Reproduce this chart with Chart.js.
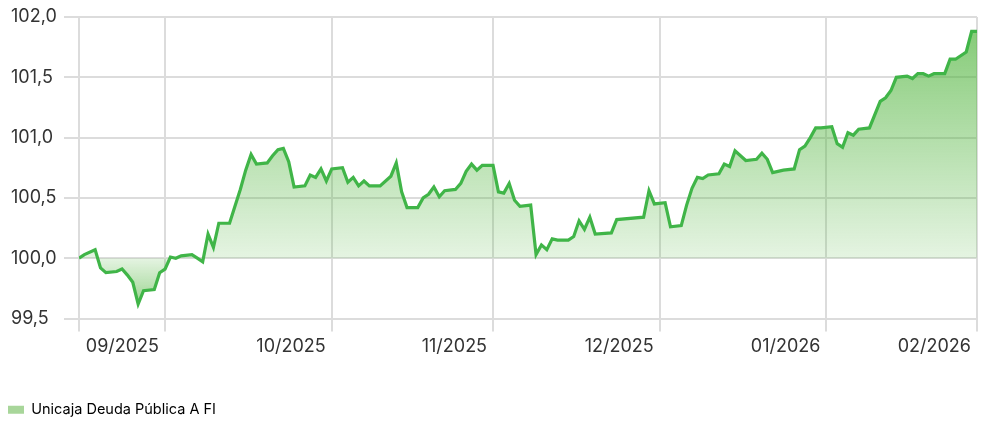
<!DOCTYPE html>
<html lang="es">
<head>
  <meta charset="UTF-8">
  <title>Unicaja Deuda Pública A FI</title>
  <script src="https://cdn.jsdelivr.net/npm/chart.js"></script>
  <style>
    html, body { margin: 0; padding: 0; background: #fff; }
    #wrap { width: 986px; height: 421px; }
  </style>
</head>
<body>
  <div id="wrap"><canvas id="grafica"></canvas></div>

  <script>
    // días desde el inicio de la serie (14/09/2025) y valor liquidativo en base 100
    const dias = [0, 1, 3, 4, 5, 7, 8, 9, 10, 11, 12, 14, 15, 16, 17, 18, 19, 21, 22, 23,
      24, 25, 26, 28, 29, 30, 31, 32, 33, 35, 36, 37, 38, 39, 40, 42, 43, 44, 45, 46,
      47, 49, 50, 51, 52, 53, 54, 56, 58, 59, 60, 61, 63, 64, 65, 66, 67, 68, 70, 71,
      72, 73, 74, 75, 77, 78, 79, 80, 81, 82, 84, 85, 86, 87, 88, 89, 91, 92, 93, 94,
      95, 96, 99, 100, 105, 106, 107, 109, 110, 112, 113, 114, 115, 116, 117, 119, 120, 121, 122, 124,
      126, 127, 128, 129, 131, 133, 134, 135, 136, 137, 138, 140, 141, 142, 143, 144, 145, 147, 149, 150,
      151, 152, 154, 155, 156, 157, 158, 159, 161, 162, 163, 165, 166, 167];
    const valores = [100.00, 100.03, 100.07, 99.92, 99.88, 99.89, 99.91, 99.86, 99.80, 99.62, 99.73, 99.74, 99.88, 99.91, 100.01, 100.00, 100.02, 100.03, 100.00, 99.97,
      100.20, 100.09, 100.29, 100.29, 100.43, 100.57, 100.73, 100.86, 100.78, 100.79, 100.85, 100.90, 100.91, 100.80, 100.59, 100.60, 100.69, 100.67, 100.74, 100.64,
      100.74, 100.75, 100.63, 100.67, 100.60, 100.64, 100.60, 100.60, 100.68, 100.79, 100.55, 100.42, 100.42, 100.50, 100.53, 100.59, 100.51, 100.56, 100.57, 100.62,
      100.72, 100.78, 100.73, 100.77, 100.77, 100.55, 100.54, 100.62, 100.48, 100.43, 100.44, 100.03, 100.11, 100.07, 100.16, 100.15, 100.15, 100.18, 100.31, 100.24,
      100.34, 100.20, 100.21, 100.32, 100.34, 100.56, 100.45, 100.46, 100.26, 100.27, 100.44, 100.58, 100.67, 100.66, 100.69, 100.70, 100.78, 100.76, 100.89, 100.81,
      100.82, 100.87, 100.82, 100.71, 100.73, 100.74, 100.90, 100.93, 101.00, 101.08, 101.08, 101.09, 100.95, 100.92, 101.04, 101.02, 101.07, 101.08, 101.30, 101.33,
      101.39, 101.50, 101.51, 101.49, 101.53, 101.53, 101.51, 101.53, 101.53, 101.65, 101.65, 101.71, 101.88, 101.88];

    // marcas del eje X (fin de cada mes)
    const diasMarca = [0, 16, 47, 77, 108, 139, 167];
    const etiquetasMes = ['', '09/2025', '10/2025', '11/2025', '12/2025', '01/2026', '02/2026'];

    const nombreFondo = 'Unicaja Deuda Pública A FI';

    const fuente = "'Inter', 'Noto Sans', sans-serif";

    function relleno(context) {
      const chart = context.chart;
      const area = chart.chartArea;
      if (!area) return 'rgba(80,180,60,0.3)';
      const y = chart.scales.y;
      const g = chart.ctx.createLinearGradient(0, area.top, 0, area.bottom);
      const base = (y.getPixelForValue(100) - area.top) / (area.bottom - area.top);
      g.addColorStop(0, 'rgba(80,180,60,0.72)');
      g.addColorStop(Math.min(Math.max(base, 0), 1), 'rgba(80,180,60,0.15)');
      g.addColorStop(1, 'rgba(80,180,60,0.7)');
      return g;
    }

    // baja un poco la leyenda (Chart.js le reserva 10px de más por debajo)
    const moverLeyenda = {
      id: 'moverLeyenda',
      afterLayout(chart) {
        const l = chart.legend;
        if (!l) return;
        l.top += 6; l.bottom += 6;
        l.left -= 3; l.right -= 3;
      }
    };

    const ctx = document.getElementById('grafica').getContext('2d');
    new Chart(ctx, {
      type: 'line',
      data: {
        datasets: [{
          label: nombreFondo,
          data: dias.map((d, i) => ({ x: d, y: valores[i] })),
          borderColor: '#40b548',
          borderWidth: 3.2,
          pointRadius: 0,
          tension: 0,
          fill: { value: 100 },
          backgroundColor: relleno
        }]
      },
      options: {
        responsive: true,
        maintainAspectRatio: false,
        animation: false,
        layout: { padding: { left: 11, right: 9, top: 17, bottom: 0 } },
        scales: {
          x: {
            type: 'linear',
            min: 0,
            max: 167,
            afterBuildTicks: (scale) => { scale.ticks = diasMarca.map(v => ({ value: v })); },
            afterFit: (scale) => { scale.height = 78; },
            grid: { color: '#dcdcdc', lineWidth: 2, tickLength: 13 },
            border: { display: false },
            ticks: {
              align: 'end',
              labelOffset: -6,
              padding: 4,
              maxRotation: 0,
              autoSkip: false,
              color: '#333',
              font: { family: fuente, size: 18 },
              callback: (v) => etiquetasMes[diasMarca.indexOf(v)] || ''
            }
          },
          y: {
            min: 99.5,
            max: 102,
            afterFit: (scale) => { scale.width = 68; },
            grid: { color: '#dcdcdc', lineWidth: 2, tickLength: 15 },
            border: { display: false },
            ticks: {
              stepSize: 0.5,
              crossAlign: 'far',
              color: '#333',
              font: { family: fuente, size: 18 },
              callback: (v) => v.toFixed(1).replace('.', ',')
            }
          }
        },
        plugins: {
          legend: {
            position: 'bottom',
            align: 'start',
            labels: {
              boxWidth: 16,
              boxHeight: 8,
              padding: 0,
              color: '#333',
              font: { family: fuente, size: 14.5 },
              generateLabels: (chart) => [{
                text: nombreFondo,
                fillStyle: '#a8d69a',
                strokeStyle: '#a8d69a',
                lineWidth: 0,
                datasetIndex: 0
              }]
            }
          },
          tooltip: { enabled: false }
        }
      },
      plugins: [moverLeyenda]
    });
  </script>
</body>
</html>
